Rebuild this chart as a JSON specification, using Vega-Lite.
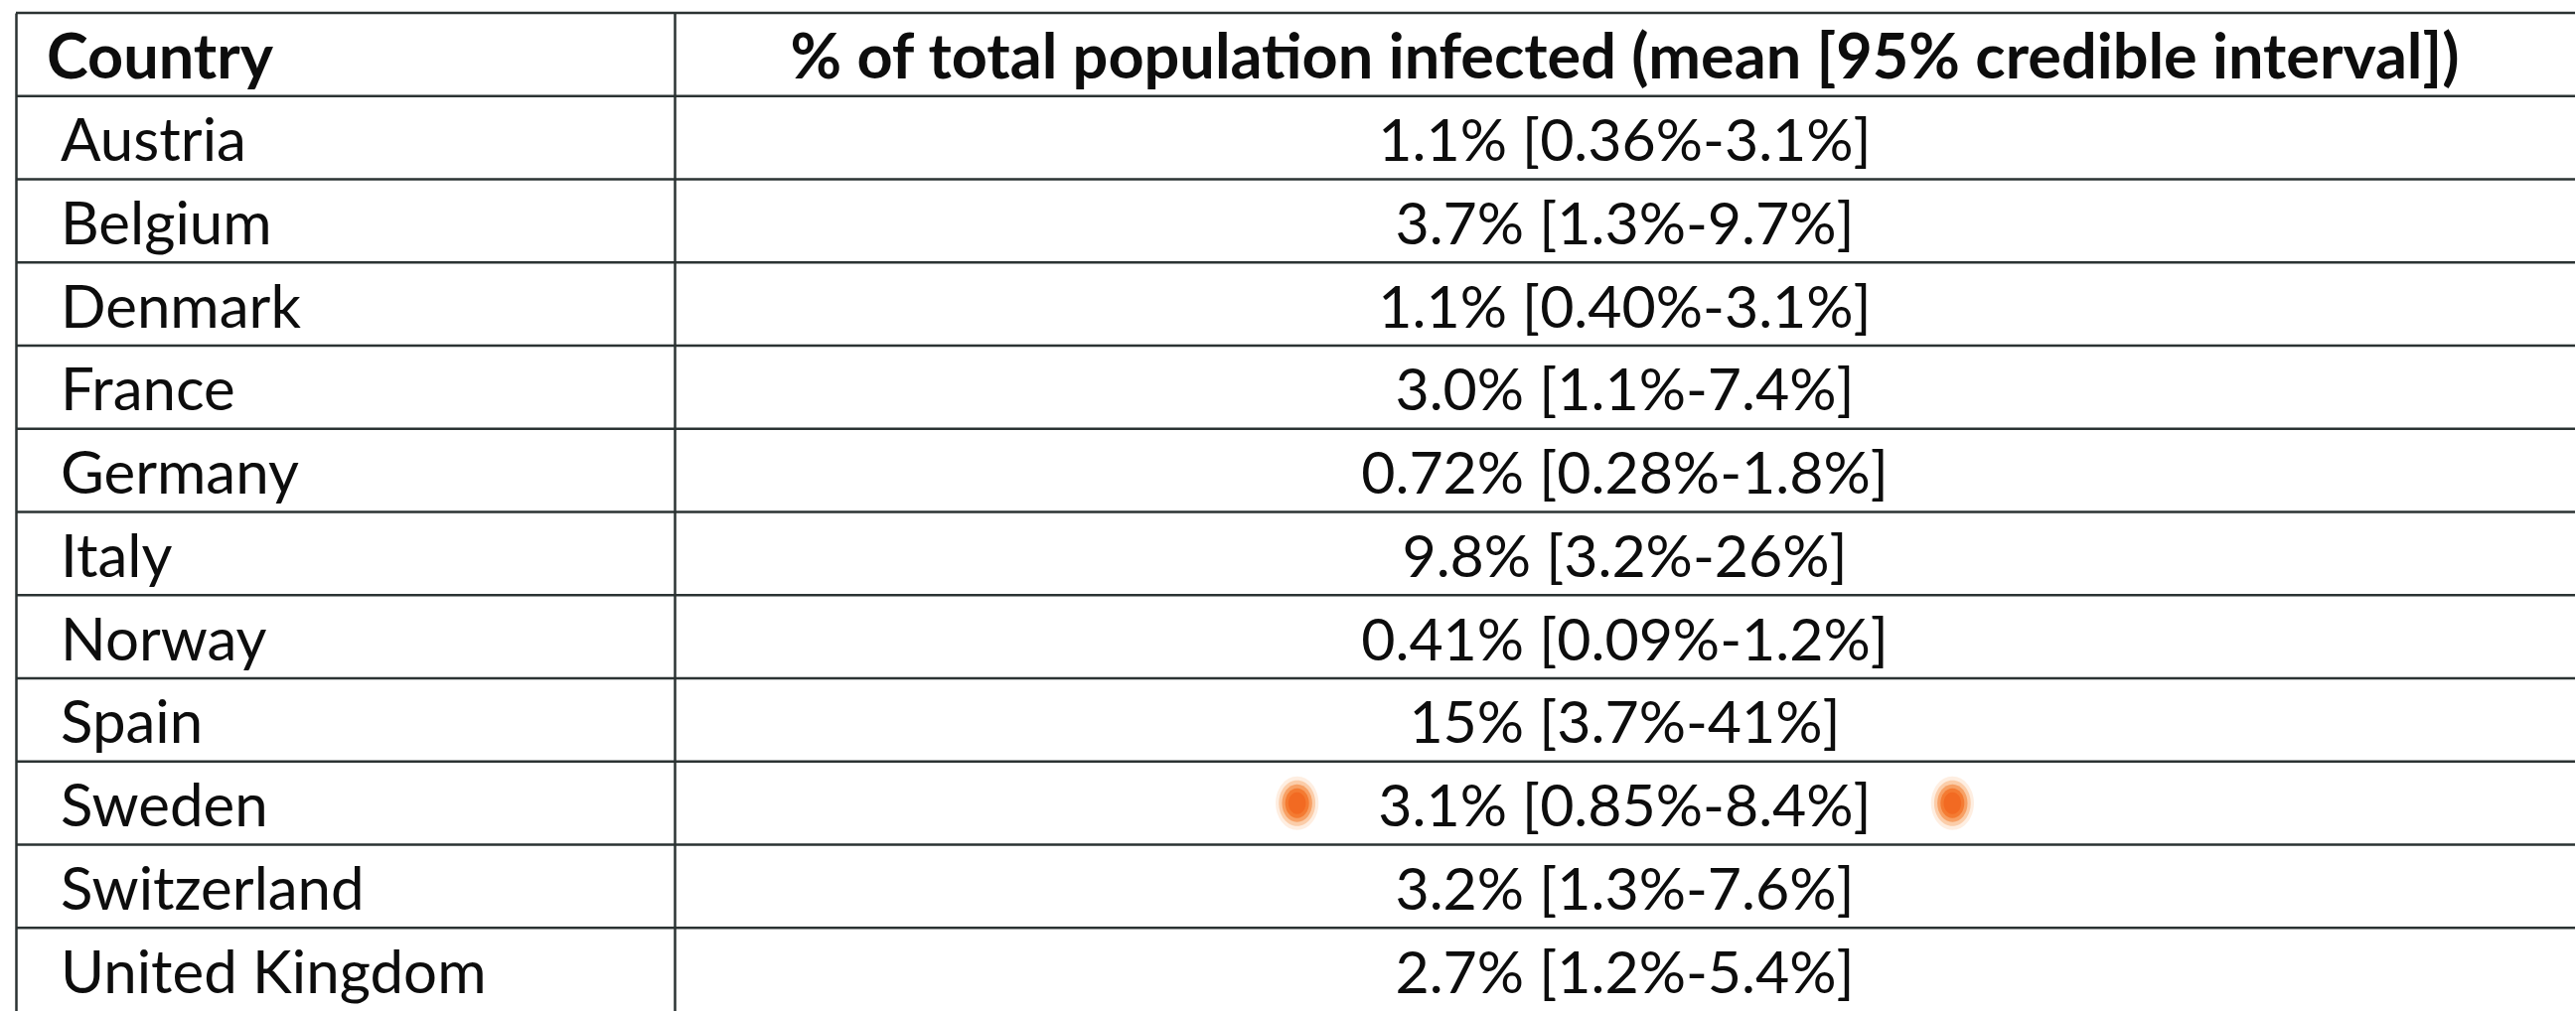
{
  "$schema": "https://vega.github.io/schema/vega-lite/v6.json",
  "background": "white",
  "padding": {"left": 14, "top": 11, "right": 0, "bottom": 0},
  "bounds": "flush",
  "spacing": 0,
  "config": {
    "view": {"stroke": null},
    "font": "Lato",
    "axis": {"labels": false, "ticks": false, "grid": false, "domainColor": "#2b3333", "domainWidth": 2.5}
  },
  "datasets": {
    "table": [
      {"Country": "Country", "Infected": "% of total population infected (mean [95% credible interval])"},
      {"Country": "Austria", "Infected": "1.1% [0.36%-3.1%]"},
      {"Country": "Belgium", "Infected": "3.7% [1.3%-9.7%]"},
      {"Country": "Denmark", "Infected": "1.1% [0.40%-3.1%]"},
      {"Country": "France", "Infected": "3.0% [1.1%-7.4%]"},
      {"Country": "Germany", "Infected": "0.72% [0.28%-1.8%]"},
      {"Country": "Italy", "Infected": "9.8% [3.2%-26%]"},
      {"Country": "Norway", "Infected": "0.41% [0.09%-1.2%]"},
      {"Country": "Spain", "Infected": "15% [3.7%-41%]"},
      {"Country": "Sweden", "Infected": "3.1% [0.85%-8.4%]"},
      {"Country": "Switzerland", "Infected": "3.2% [1.3%-7.6%]"},
      {"Country": "United Kingdom", "Infected": "2.7% [1.2%-5.4%]"}
    ],
    "highlights": [
      {"Country": "Sweden", "Side": "left"},
      {"Country": "Sweden", "Side": "right"}
    ]
  },
  "hconcat": [
    {
      "width": 663,
      "height": 1005,
      "data": {"name": "table"},
      "layer": [
        {
          "mark": {"type": "rule", "stroke": "#2b3333", "strokeWidth": 2.5},
          "encoding": {
            "y": {"field": "Country", "type": "nominal", "sort": null, "bandPosition": 0, "title": null,
                  "scale": {"paddingInner": 0, "paddingOuter": -0.05, "align": 0, "round": false}}
          }
        },
        {
          "transform": [{"filter": "datum.Country === 'Country'"}],
          "mark": {"type": "text", "align": "left", "baseline": "alphabetic", "dy": 24, "fontSize": 63, "fontWeight": "bold", "color": "#0d0d0d"},
          "encoding": {
            "x": {"value": 31},
            "y": {"field": "Country", "type": "nominal", "sort": null, "title": null},
            "text": {"field": "Country"}
          }
        },
        {
          "transform": [{"filter": "datum.Country !== 'Country'"}],
          "mark": {"type": "text", "align": "left", "baseline": "alphabetic", "dy": 23.5, "fontSize": 60, "fontWeight": "normal", "color": "#0d0d0d"},
          "encoding": {
            "x": {"value": 45},
            "y": {"field": "Country", "type": "nominal", "sort": null, "title": null},
            "text": {"field": "Country"}
          }
        }
      ]
    },
    {
      "width": 1913,
      "height": 1005,
      "layer": [
        {
          "data": {"name": "table"},
          "mark": {"type": "rule", "stroke": "#2b3333", "strokeWidth": 2.5},
          "encoding": {
            "y": {"field": "Country", "type": "nominal", "sort": null, "bandPosition": 0, "title": null,
                  "scale": {"paddingInner": 0, "paddingOuter": -0.05, "align": 0, "round": false}}
          }
        },
        {
          "data": {"name": "table"},
          "transform": [{"filter": "datum.Country === 'Country'"}],
          "mark": {"type": "text", "align": "center", "baseline": "alphabetic", "dy": 24, "fontSize": 63, "fontWeight": "bold", "color": "#0d0d0d"},
          "encoding": {
            "y": {"field": "Country", "type": "nominal", "sort": null, "title": null},
            "text": {"field": "Infected"}
          }
        },
        {
          "data": {"name": "table"},
          "transform": [{"filter": "datum.Country !== 'Country'"}],
          "mark": {"type": "text", "align": "center", "baseline": "alphabetic", "dy": 23.5, "fontSize": 59, "fontWeight": "normal", "color": "#0d0d0d"},
          "encoding": {
            "y": {"field": "Country", "type": "nominal", "sort": null, "title": null},
            "text": {"field": "Infected"}
          }
        },
        {
          "data": {"name": "highlights"},
          "mark": {"type": "point", "filled": true, "shape": "M0,-1 A0.8,1 0 1,1 0,1 A0.8,1 0 1,1 0,-1 Z", "size": 2916, "opacity": 0.2, "color": "#f9ab6b", "strokeWidth": 0},
          "encoding": {
            "x": {"field": "Side", "type": "nominal", "axis": null, "scale": {"type": "point", "domain": ["left", "right"], "padding": 0.95}},
            "y": {"field": "Country", "type": "nominal", "sort": null, "title": null}
          }
        },
        {
          "data": {"name": "highlights"},
          "mark": {"type": "point", "filled": true, "shape": "M0,-1 A0.8,1 0 1,1 0,1 A0.8,1 0 1,1 0,-1 Z", "size": 2116, "opacity": 0.4, "color": "#f79a55", "strokeWidth": 0},
          "encoding": {
            "x": {"field": "Side", "type": "nominal", "axis": null},
            "y": {"field": "Country", "type": "nominal", "sort": null, "title": null}
          }
        },
        {
          "data": {"name": "highlights"},
          "mark": {"type": "point", "filled": true, "shape": "M0,-1 A0.8,1 0 1,1 0,1 A0.8,1 0 1,1 0,-1 Z", "size": 1444, "opacity": 0.65, "color": "#f5873f", "strokeWidth": 0},
          "encoding": {
            "x": {"field": "Side", "type": "nominal", "axis": null},
            "y": {"field": "Country", "type": "nominal", "sort": null, "title": null}
          }
        },
        {
          "data": {"name": "highlights"},
          "mark": {"type": "point", "filled": true, "shape": "M0,-1 A0.8,1 0 1,1 0,1 A0.8,1 0 1,1 0,-1 Z", "size": 900, "opacity": 0.9, "color": "#f3772c", "strokeWidth": 0},
          "encoding": {
            "x": {"field": "Side", "type": "nominal", "axis": null},
            "y": {"field": "Country", "type": "nominal", "sort": null, "title": null}
          }
        },
        {
          "data": {"name": "highlights"},
          "mark": {"type": "point", "filled": true, "shape": "M0,-1 A0.8,1 0 1,1 0,1 A0.8,1 0 1,1 0,-1 Z", "size": 484, "opacity": 1, "color": "#f26a22", "strokeWidth": 0},
          "encoding": {
            "x": {"field": "Side", "type": "nominal", "axis": null},
            "y": {"field": "Country", "type": "nominal", "sort": null, "title": null}
          }
        }
      ]
    }
  ]
}
